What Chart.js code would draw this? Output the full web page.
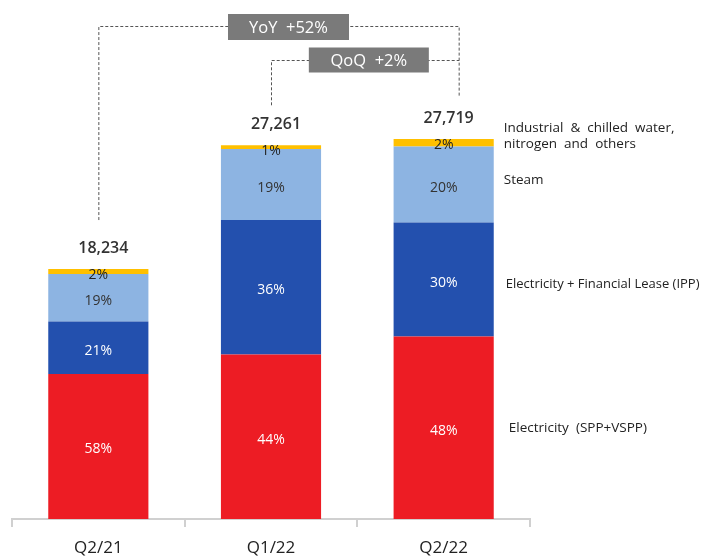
<!DOCTYPE html>
<html>
<head>
<meta charset="utf-8">
<script src="https://cdn.jsdelivr.net/npm/chart.js@4.4.1/dist/chart.umd.min.js"></script>
<style>
  html, body { margin: 0; padding: 0; background: #fff; }
  #wrap { width: 714px; height: 558px; position: relative; }
</style>
</head>
<body>
<div id="wrap"><canvas id="myChart"></canvas></div>
<script>
// values (revenue split, each bar adds up to its total)
const categories = ['Q2/21', 'Q1/22', 'Q2/22'];
const totalLabels = ['18,234', '27,261', '27,719'];

const elecSpp = [10576, 11995, 13305];
const elecIpp = [3829, 9814, 8316];
const steam = [3464, 5180, 5544];
const others = [365, 272, 554];

const elecSppPct = ['58%', '44%', '48%'];
const elecIppPct = ['21%', '36%', '30%'];
const steamPct = ['19%', '19%', '20%'];
const othersPct = ['2%', '1%', '2%'];

const seriesNames = [
  ['Electricity  (SPP+VSPP)'],
  ['Electricity + Financial Lease (IPP)'],
  ['Steam'],
  ['Industrial  &  chilled  water,', 'nitrogen  and  others']
];

const yoyText = 'YoY  +52%';
const qoqText = 'QoQ  +2%';

const FONT = '"Open Sans", "Noto Sans", sans-serif';

// draws the in-bar percentages, totals, side names and the growth brackets
const overlay = {
  id: 'overlay',
  afterDatasetsDraw(chart) {
    const ctx = chart.ctx;
    const pcts = [elecSppPct, elecIppPct, steamPct, othersPct];
    const textCols = ['#fff', '#fff', '#333', '#222'];
    ctx.save();
    ctx.textAlign = 'center';
    ctx.textBaseline = 'middle';

    // percentages
    chart.data.datasets.forEach((ds, d) => {
      const meta = chart.getDatasetMeta(d);
      meta.data.forEach((bar, i) => {
        ctx.font = '14px ' + FONT;
        ctx.fillStyle = textCols[d];
        let y = (bar.y + bar.base) / 2 + 3;
        if (d === 3) y = bar.y + 6;
        ctx.fillText(pcts[d][i], bar.x, y);
      });
    });

    // totals
    const topMeta = chart.getDatasetMeta(3);
    ctx.font = '600 16px ' + FONT;
    ctx.fillStyle = '#333';
    topMeta.data.forEach((bar, i) => {
      ctx.fillText(totalLabels[i], bar.x + 5, bar.y - 21);
    });

    // series names beside the last bar
    const last = categories.length - 1;
    const shift = [0, 5, -4, -7];
    const dx = [15, 12, 10, 10];
    const sizes = [13.5, 13, 13.5, 13.5];
    ctx.textAlign = 'left';
    ctx.fillStyle = '#222';
    seriesNames.forEach((lines, d) => {
      const bar = chart.getDatasetMeta(d).data[last];
      const cy = (bar.y + bar.base) / 2 + shift[d];
      const x = bar.x + bar.width / 2 + dx[d];
      ctx.font = sizes[d] + 'px ' + FONT;
      lines.forEach((t, k) => {
        ctx.fillText(t, x, cy + (k - (lines.length - 1) / 2) * 16);
      });
    });

    // growth brackets
    const xs = chart.scales.x;
    const x0 = xs.getPixelForValue(0);
    const x1 = xs.getPixelForValue(1);
    const xR = xs.getPixelForValue(2) + 15;
    const top0 = topMeta.data[0].y;
    const top1 = topMeta.data[1].y;
    const top2 = topMeta.data[2].y;

    ctx.strokeStyle = '#555';
    ctx.lineWidth = 1;
    ctx.setLineDash([3, 2]);
    const yYoy = 26, yQoq = 60;
    ctx.beginPath();
    ctx.moveTo(x0 + 0.5, top0 - 49);
    ctx.lineTo(x0 + 0.5, yYoy + 0.5);
    ctx.lineTo(xR + 0.5, yYoy + 0.5);
    ctx.lineTo(xR + 0.5, top2 - 42);
    ctx.moveTo(x1 + 0.5, top1 - 40);
    ctx.lineTo(x1 + 0.5, yQoq + 0.5);
    ctx.lineTo(xR + 0.5, yQoq + 0.5);
    ctx.stroke();
    ctx.setLineDash([]);

    const box = (cx, cy, w, h, txt) => {
      ctx.fillStyle = '#7a7a7a';
      ctx.fillRect(cx - w / 2, cy - h / 2, w, h);
      ctx.fillStyle = '#fff';
      ctx.textAlign = 'center';
      ctx.font = '16.5px ' + FONT;
      ctx.fillText(txt, cx, cy + 1);
    };
    box((x0 + xR) / 2 + 10, yYoy + 1, 121, 26, yoyText);
    box((x1 + xR) / 2 + 4, yQoq, 120, 25, qoqText);

    ctx.restore();
  }
};

const ctx = document.getElementById('myChart').getContext('2d');
const myChart = new Chart(ctx, {
  type: 'bar',
  data: {
    labels: categories,
    datasets: [
      { label: seriesNames[0][0], data: elecSpp, backgroundColor: '#ED1C24' },
      { label: seriesNames[1][0], data: elecIpp, backgroundColor: '#2350AE' },
      { label: seriesNames[2][0], data: steam, backgroundColor: '#8DB4E2' },
      { label: seriesNames[3][0], data: others, backgroundColor: '#FFC000' }
    ]
  },
  options: {
    responsive: true,
    maintainAspectRatio: false,
    animation: false,
    layout: { padding: { left: 12, right: 184, top: 25.5, bottom: 0 } },
    datasets: {
      bar: { categoryPercentage: 1, barPercentage: 0.58, borderWidth: 0 }
    },
    plugins: {
      legend: { display: false },
      tooltip: { enabled: false }
    },
    scales: {
      x: {
        stacked: true,
        grid: {
          offset: true,
          drawOnChartArea: false,
          color: '#d0d0d0',
          tickLength: 8,
          lineWidth: 2
        },
        border: { color: '#d0d0d0', width: 2 },
        ticks: {
          color: '#222',
          padding: 11,
          font: { family: FONT, size: 17 }
        },
        afterFit(scale) { scale.height = 39; }
      },
      y: {
        stacked: true,
        display: false,
        min: 0,
        max: 36000
      }
    }
  },
  plugins: [overlay]
});
</script>
</body>
</html>
